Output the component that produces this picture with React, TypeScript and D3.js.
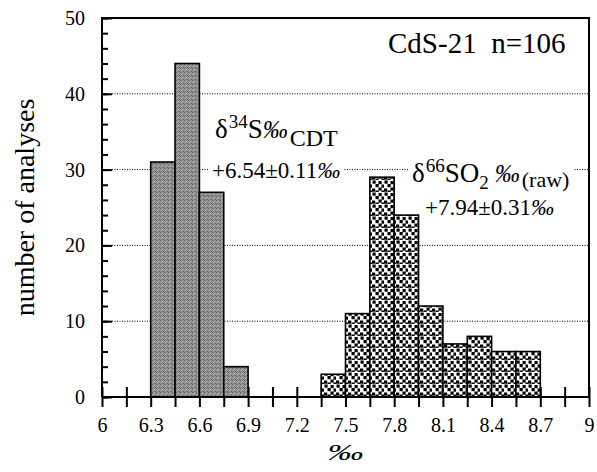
import React, { useEffect, useRef } from 'react';
import * as d3 from 'd3';

// histogram of d34S (CDT) and d66SO2 (raw), sample CdS-21
const binWidth = 0.15;
const sulfurBinStarts = [6.3, 6.45, 6.6, 6.75];
const sulfurCounts = [31, 44, 27, 4];
const so2BinStarts = [7.35, 7.5, 7.65, 7.8, 7.95, 8.1, 8.25, 8.4, 8.55];
const so2Counts = [3, 11, 29, 24, 12, 7, 8, 6, 6];
const xTickValues = d3.range(0, 21).map(i => (60 + i * 1.5) / 10);
const yMajorTicks = [0, 10, 20, 30, 40, 50];
const yMinorTicks = d3.range(0, 51, 2);
const gridValues = [10, 20, 30, 40];

const serif = '"Liberation Serif", "Times New Roman", "DejaVu Serif", serif';

const App = () => {
  const ref = useRef<SVGSVGElement>(null);

  useEffect(() => {
    const svg = d3.select(ref.current);
    svg.selectAll('*').remove();

    const width = 597;
    const height = 472;
    const margin = { top: 18, right: 8, bottom: 75, left: 102 };

    const x = d3.scaleLinear().domain([6, 9]).range([margin.left, width - margin.right]);
    const y = d3.scaleLinear().domain([0, 50]).range([height - margin.bottom, margin.top]);

    // fill textures
    const defs = svg.append('defs');
    const grayPat = defs.append('pattern')
      .attr('id', 'grayTex').attr('patternUnits', 'userSpaceOnUse')
      .attr('width', 4).attr('height', 4);
    grayPat.append('rect').attr('width', 4).attr('height', 4).attr('fill', '#8e8e8e');
    [[0, 0, '#666'], [2, 1, '#bbb'], [1, 2, '#b0b0b0'], [3, 3, '#707070'], [2, 3, '#787878']]
      .forEach(([px, py, c]) => {
        grayPat.append('rect').attr('x', px).attr('y', py).attr('width', 1).attr('height', 1).attr('fill', c as string);
      });

    const dotPat = defs.append('pattern')
      .attr('id', 'dotTex').attr('patternUnits', 'userSpaceOnUse')
      .attr('width', 12).attr('height', 12);
    dotPat.append('rect').attr('width', 12).attr('height', 12).attr('fill', '#fff');
    [[0.5, 0.5], [6.5, 1], [9.5, 4.5], [3.5, 4], [0, 8.5], [6.5, 7.5], [9.5, 10.5], [3.5, 10.5], [12, 8.5]]
      .forEach(([px, py]) => {
        dotPat.append('rect').attr('x', px).attr('y', py).attr('width', 3.2).attr('height', 3.2).attr('fill', '#000');
      });

    // dotted gridlines
    svg.append('g')
      .selectAll('line')
      .data(gridValues)
      .enter().append('line')
      .attr('x1', x(6)).attr('x2', x(9))
      .attr('y1', d => y(d)).attr('y2', d => y(d))
      .attr('stroke', '#000').attr('stroke-width', 1)
      .attr('stroke-dasharray', '1,1.5');

    // x axis: ticks cross the axis line, labels every 0.3
    const xAxis = svg.append('g')
      .attr('transform', `translate(0,${y(0)})`)
      .call(d3.axisBottom(x)
        .tickValues(xTickValues)
        .tickSize(10)
        .tickSizeOuter(0)
        .tickPadding(11)
        .tickFormat((d, i) => (i % 2 === 0 ? d3.format('.2~f')(d as number) : '')));
    xAxis.select('.domain').remove();
    xAxis.selectAll('.tick line').attr('y1', -10).attr('stroke-width', 2);
    xAxis.selectAll('text').style('font-family', serif).style('font-size', '20px').attr('fill', '#000');

    // y axis
    const yMinor = svg.append('g')
      .attr('transform', `translate(${x(6)},0)`)
      .call(d3.axisRight(y).tickValues(yMinorTicks).tickSize(6).tickFormat(() => ''));
    yMinor.select('.domain').remove();
    yMinor.selectAll('.tick line').attr('stroke-width', 2);

    const yAxis = svg.append('g')
      .attr('transform', `translate(${x(6)},0)`)
      .call(d3.axisLeft(y).tickValues(yMajorTicks).tickSize(10).tickSizeOuter(0).tickPadding(7));
    yAxis.select('.domain').remove();
    yAxis.selectAll('.tick line').attr('x2', 10).attr('stroke-width', 2);
    yAxis.selectAll('text').style('font-family', serif).style('font-size', '20px').attr('fill', '#000');

    // bars
    const drawBars = (starts: number[], counts: number[], fill: string) => {
      svg.append('g')
        .selectAll('rect')
        .data(starts.map((s, i) => ({ s, c: counts[i] })))
        .enter().append('rect')
        .attr('x', d => x(d.s))
        .attr('y', d => y(d.c))
        .attr('width', d => x(d.s + binWidth) - x(d.s))
        .attr('height', d => y(0) - y(d.c))
        .attr('fill', fill)
        .attr('stroke', '#000')
        .attr('stroke-width', 1.6);
    };
    drawBars(sulfurBinStarts, sulfurCounts, 'url(#grayTex)');
    drawBars(so2BinStarts, so2Counts, 'url(#dotTex)');

    // frame
    svg.append('path')
      .attr('d', `M${x(6)},${y(0)}V${y(50)}H${x(9)}V${y(0)}H${x(6)}`)
      .attr('fill', 'none').attr('stroke', '#000').attr('stroke-width', 2);

    // annotations; white boxes break the gridlines behind them
    const fitBox = (bg: any, node: SVGGraphicsElement, pad: number) => {
      const b = node.getBBox();
      bg.attr('x', b.x - pad).attr('y', b.y).attr('width', b.width + 2 * pad).attr('height', b.height);
    };
    const txt = (g: any, lx: number, ly: number, size: number) =>
      g.append('text').attr('x', lx).attr('y', ly)
        .style('font-family', serif).style('font-size', `${size}px`).attr('fill', '#000');

    const s34 = svg.append('g');
    const s34t = txt(s34, 215, 138, 27);
    s34t.append('tspan').text('δ');
    s34t.append('tspan').style('font-size', '19px').attr('dy', -10).attr('dx', 1).text('34');
    s34t.append('tspan').attr('dy', 10).text('S');
    s34t.append('tspan').style('font-size', '25px').style('font-style', 'italic').text('‰');
    s34t.append('tspan').style('font-size', '24px').attr('dy', 8).attr('dx', 2).text('CDT');

    const s34v = svg.append('g');
    const s34vBg = s34v.append('rect').attr('fill', '#fff');
    const s34vText = txt(s34v, 212, 178, 23);
    s34vText.append('tspan').text('+6.54±0.11');
    s34vText.append('tspan').style('font-style', 'italic').text('‰');
    fitBox(s34vBg, s34vText.node() as SVGGraphicsElement, 3);

    const so2 = svg.append('g');
    const so2Bg = so2.append('rect').attr('fill', '#fff');
    const so2t = txt(so2, 412, 182, 27);
    so2t.append('tspan').text('δ');
    so2t.append('tspan').style('font-size', '19px').attr('dy', -10).attr('dx', 1).text('66');
    so2t.append('tspan').attr('dy', 10).text('SO');
    so2t.append('tspan').style('font-size', '19px').attr('dy', 7).text('2');
    so2t.append('tspan').style('font-size', '25px').attr('dy', -7).attr('dx', 6).style('font-style', 'italic').text('‰');
    so2t.append('tspan').style('font-size', '22px').attr('dy', 5).attr('dx', 2).text('(raw)');
    fitBox(so2Bg, so2t.node() as SVGGraphicsElement, 4);

    const so2v = txt(svg, 425, 215, 23);
    so2v.append('tspan').text('+7.94±0.31');
    so2v.append('tspan').style('font-style', 'italic').text('‰');

    txt(svg, 388, 53, 29).text('CdS-21\u00a0\u00a0n=106');

    // axis titles
    txt(svg, 0, 0, 28)
      .attr('transform', `translate(34,${(y(0) + y(50)) / 2}) rotate(-90)`)
      .attr('text-anchor', 'middle')
      .text('number of analyses');

    txt(svg, 0, 0, 24)
      .attr('transform', `translate(${(x(6) + x(9)) / 2},460) scale(1.5,1)`)
      .attr('text-anchor', 'middle')
      .style('font-style', 'italic')
      .text('‰');
  }, []);

  return (
    <svg ref={ref} width="597" height="472"
      style={{ position: 'absolute', left: 0, top: 0, background: '#fff' }}></svg>
  );
};

export default App;
